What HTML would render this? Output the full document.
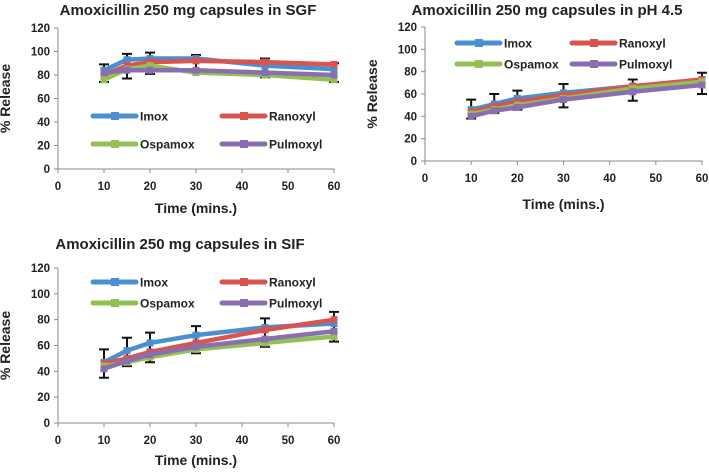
<!DOCTYPE html>
<html><head><meta charset="utf-8"><style>
html,body{margin:0;padding:0;background:#fff;}
svg{display:block;font-family:"Liberation Sans",sans-serif;}
</style></head><body>
<svg id="s" width="709" height="472" viewBox="0 0 709 472"></svg>
<script>
const xValues=[10,15,20,30,45,60];
const xTicks=[0,10,20,30,40,50,60];
const yTicks=[0,20,40,60,80,100,120];
const seriesNames=["Imox","Ranoxyl","Ospamox","Pulmoxyl"];
const sgfImox=[84,93,94,94,88,85];
const sgfRanoxyl=[80,88,91,92,91,89];
const sgfOspamox=[76,85,88,82,80,76];
const sgfPulmoxyl=[82,84,84,84,82,80];
const sgfErrTop=[89,98,99,97,94,90];
const sgfErrBottom=[74,77,81,82,78,74];
const phImox=[46,51,56,61,67,71];
const phRanoxyl=[44,49,53,59,67,73];
const phOspamox=[42,46,50,56,65,71];
const phPulmoxyl=[40,45,48,55,62,68];
const phErrTop=[55,60,63,69,73,79];
const phErrBottom=[38,43,46,48,54,60];
const sifImox=[47,56,62,68,74,77];
const sifRanoxyl=[46,50,55,62,72,80];
const sifOspamox=[44,47,51,57,62,67];
const sifPulmoxyl=[42,48,53,59,65,71];
const sifErrTop=[57,66,70,75,81,86];
const sifErrBottom=[35,44,47,54,59,63];

const colors=["#4a8fd0","#d9534f","#93bf55","#8a6fb0"];
const S=document.getElementById('s');
const NS="http://www.w3.org/2000/svg";
function mk(tag,attrs,parent,txt){const e=document.createElementNS(NS,tag);for(const k in attrs)e.setAttribute(k,attrs[k]);if(txt!==undefined)e.textContent=txt;(parent||S).appendChild(e);return e;}

function chart(id,title,titleX,titleY,x0,x1,y0,y1,series,errTop,errBottom,legY,legX,xlabY){
  const g=mk('g',{});
  
  
  const sx=v=>x0+(v-0)/60*(x1-x0);
  const sy=v=>y0-(v/120)*(y0-y1);
  const t=mk('text',{x:titleX,y:titleY,'text-anchor':'middle','font-size':'15','font-weight':'bold',fill:'#222'},g,title);
  
  
  mk('line',{x1:x0,y1:y0,x2:x0,y2:y1,stroke:'#888','stroke-width':1},g);
  mk('line',{x1:x0,y1:y0,x2:x1,y2:y0,stroke:'#888','stroke-width':1},g);
  yTicks.forEach(v=>{
    mk('line',{x1:x0-4,y1:sy(v),x2:x0,y2:sy(v),stroke:'#888'},g);
    const l=mk('text',{x:x0-8,y:sy(v)+4,'text-anchor':'end','font-size':'11.5','font-weight':'bold',fill:'#222'},g,String(v));
    
    
  });
  xTicks.forEach(v=>{
    mk('line',{x1:sx(v),y1:y0,x2:sx(v),y2:y0+4,stroke:'#888'},g);
    const l=mk('text',{x:sx(v),y:y0+21,'text-anchor':'middle','font-size':'11.5','font-weight':'bold',fill:'#222'},g,String(v));
    
    
  });
  const xl=mk('text',{x:(x0+x1)/2,y:xlabY,'text-anchor':'middle','font-size':'14','font-weight':'bold',fill:'#222'},g,'Time (mins.)');
  
  
  const ym=(y0+y1)/2;
  const yl=mk('text',{x:x0-48,y:ym,'text-anchor':'middle','font-size':'14','font-weight':'bold',fill:'#222',transform:`rotate(-90 ${x0-48} ${ym})`},g,'% Release');
  
  
  xValues.forEach((xv,i)=>{
    const eb=mk('path',{d:`M${sx(xv)},${sy(errTop[i])}V${sy(errBottom[i])}M${sx(xv)-5},${sy(errTop[i])}h10M${sx(xv)-5},${sy(errBottom[i])}h10`,stroke:'#111','stroke-width':2,fill:'none'},g);
    
    
  });
  series.forEach((vals,si)=>{
    const pts=xValues.map((xv,i)=>sx(xv)+','+sy(vals[i])).join(' ');
    const pl=mk('polyline',{points:pts,fill:'none',stroke:colors[si],'stroke-width':4.5,'stroke-linejoin':'round'},g);
    
    
    xValues.forEach((xv,i)=>{
      const m=mk('rect',{x:sx(xv)-3.5,y:sy(vals[i])-3.5,width:7,height:7,fill:colors[si]},g);
      
      
    });
  });
  seriesNames.forEach((n,si)=>{
    const lx=legX[si%2], ly=legY[Math.floor(si/2)];
    const lg=mk('g',{},g);
    
    
    mk('line',{x1:lx,y1:ly,x2:lx+43,y2:ly,stroke:colors[si],'stroke-width':5,'stroke-linecap':'round'},lg);
    mk('rect',{x:lx+18,y:ly-4,width:8,height:8,fill:colors[si]},lg);
    mk('text',{x:lx+47,y:ly+4.5,'font-size':'12','font-weight':'bold',fill:'#222'},lg,n);
  });
}
chart('chart-sgf','Amoxicillin 250 mg capsules in SGF',188,15,58,334,169,28,[sgfImox,sgfRanoxyl,sgfOspamox,sgfPulmoxyl],sgfErrTop,sgfErrBottom,[116,144],[93,222],213);
chart('chart-ph45','Amoxicillin 250 mg capsules in pH 4.5',547,15,425,702,161,27,[phImox,phRanoxyl,phOspamox,phPulmoxyl],phErrTop,phErrBottom,[43,64],[457,572],209);
chart('chart-sif','Amoxicillin 250 mg capsules in SIF',180,249,58,334,423,268,[sifImox,sifRanoxyl,sifOspamox,sifPulmoxyl],sifErrTop,sifErrBottom,[282,303],[93,222],465);
</script>
</body></html>
